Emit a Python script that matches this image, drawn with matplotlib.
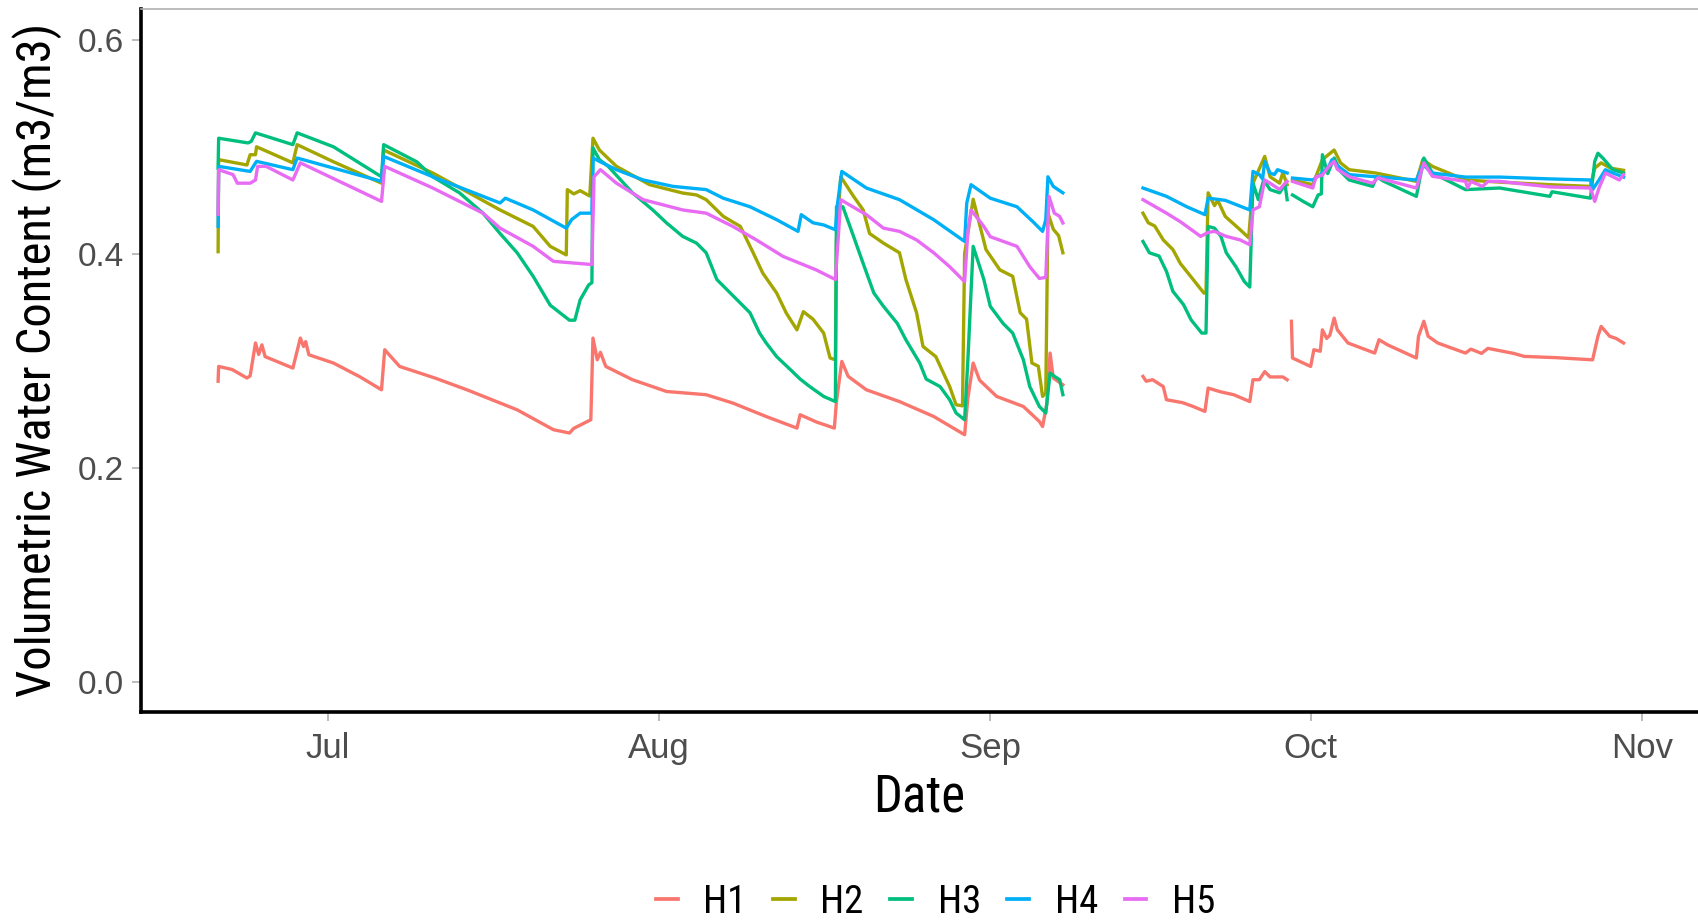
import numpy as np
import pandas as pd
import matplotlib
matplotlib.use("Agg")
import matplotlib.pyplot as plt
import matplotlib.dates as mdates
from matplotlib import font_manager
from matplotlib.lines import Line2D

# soil moisture probes H1..H5, (days since 1 Jul, volumetric water content)
# nan rows mark logger gaps
h1 = [(-10.3, 0.281), (-10.25, 0.2948), (-9.0, 0.292), (-7.6, 0.284), (-7.3, 0.286),
      (-6.8, 0.3167), (-6.5, 0.306), (-6.2, 0.315), (-5.9, 0.304), (-3.3, 0.2933),
      (-2.6, 0.3213), (-2.3, 0.3135), (-2.1, 0.318), (-1.8, 0.3057), (0.5, 0.298),
      (3.0, 0.285), (5.0, 0.273), (5.3, 0.3104), (6.7, 0.2948), (10.0, 0.284),
      (13.0, 0.273), (17.7, 0.2543), (21.1, 0.2357), (22.6, 0.2326), (23.0, 0.237),
      (24.6, 0.245), (24.8, 0.3213), (25.2, 0.301), (25.5, 0.308), (26.0, 0.2948),
      (28.5, 0.2824), (31.7, 0.2714), (35.4, 0.2684), (37.9, 0.2606), (41.0, 0.2481),
      (43.9, 0.2372), (44.2, 0.2497), (45.7, 0.243), (47.4, 0.2372), (47.6, 0.262),
      (48.1, 0.2995), (48.7, 0.2855), (50.4, 0.273), (53.5, 0.262), (56.7, 0.2481),
      (58.8, 0.2357), (59.6, 0.231), (59.9, 0.265), (60.4, 0.298), (61.0, 0.282),
      (62.6, 0.2668), (65.1, 0.2574), (66.6, 0.2434), (66.9, 0.2387), (67.3, 0.26),
      (67.6, 0.3073), (67.9, 0.284), (68.8, 0.2777),
      (72.0, np.nan),
      (76.3, 0.2855), (76.6, 0.281), (77.2, 0.2824), (78.2, 0.276), (78.5, 0.2637),
      (80.0, 0.261), (81.0, 0.2574), (82.1, 0.2528), (82.4, 0.2746), (83.6, 0.271),
      (84.8, 0.2684), (86.3, 0.262), (86.6, 0.2824), (87.2, 0.2824), (87.7, 0.290),
      (88.2, 0.285), (89.4, 0.285), (89.8, 0.2824),
      (90.0, np.nan),
      (90.2, 0.337), (90.3, 0.3027), (92.0, 0.2948), (92.3, 0.3104), (92.9, 0.309),
      (93.1, 0.329), (93.5, 0.321), (93.8, 0.324), (94.2, 0.340), (94.5, 0.329),
      (95.5, 0.3167), (98.0, 0.3073), (98.4, 0.3198), (99.2, 0.315), (101.9, 0.3027),
      (102.1, 0.323), (102.6, 0.337), (103.0, 0.323), (103.9, 0.3167), (106.5, 0.3073),
      (107.0, 0.311), (108.0, 0.307), (108.6, 0.3117), (111.0, 0.307), (112.0, 0.3042),
      (115.0, 0.303), (118.4, 0.301), (118.9, 0.323), (119.2, 0.3322), (120.0, 0.323),
      (120.6, 0.321), (121.3, 0.3167)]

h2 = [(-10.3, 0.402), (-10.25, 0.488), (-7.6, 0.483), (-7.3, 0.4926), (-6.8, 0.4926),
      (-6.7, 0.500), (-3.3, 0.485), (-2.9, 0.502), (0.5, 0.486), (5.0, 0.466),
      (5.2, 0.497), (9.8, 0.4755), (13.0, 0.458), (16.1, 0.441), (19.2, 0.4256),
      (20.8, 0.407), (22.3, 0.399), (22.4, 0.460), (23.0, 0.456), (23.6, 0.459),
      (24.5, 0.454), (24.8, 0.508), (25.4, 0.497), (27.0, 0.4817), (30.1, 0.4646),
      (33.2, 0.4568), (34.5, 0.455), (35.4, 0.4506), (37.0, 0.435), (38.6, 0.4256),
      (39.8, 0.401), (40.7, 0.382), (42.0, 0.3634), (42.9, 0.3447), (43.9, 0.329),
      (44.5, 0.346), (45.4, 0.339), (46.4, 0.326), (47.0, 0.3027), (47.5, 0.301),
      (47.6, 0.413), (48.0, 0.472), (49.2, 0.4537), (50.1, 0.441), (50.7, 0.419),
      (52.0, 0.410), (53.5, 0.401), (54.1, 0.376), (55.1, 0.345), (55.7, 0.3135),
      (56.9, 0.304), (58.2, 0.276), (58.8, 0.259), (59.4, 0.258), (59.6, 0.40),
      (60.4, 0.451), (61.6, 0.404), (62.9, 0.385), (64.1, 0.379), (64.8, 0.345),
      (65.4, 0.339), (65.9, 0.298), (66.5, 0.295), (66.9, 0.2668), (67.2, 0.27),
      (67.4, 0.438), (67.9, 0.423), (68.4, 0.417), (68.8, 0.401),
      (72.0, np.nan),
      (76.3, 0.438), (76.8, 0.429), (77.4, 0.426), (78.2, 0.413), (79.1, 0.404),
      (79.8, 0.391), (81.0, 0.376), (82.0, 0.3634), (82.2, 0.3634), (82.4, 0.457),
      (83.0, 0.445), (83.3, 0.450), (84.0, 0.435), (85.4, 0.4225), (86.2, 0.415),
      (86.6, 0.466), (87.7, 0.491), (88.2, 0.472), (89.1, 0.466), (89.4, 0.476),
      (89.8, 0.4646),
      (90.0, np.nan),
      (90.3, 0.469), (92.2, 0.4646), (93.1, 0.488), (94.2, 0.497), (94.8, 0.485),
      (95.6, 0.4786), (98.1, 0.4755), (101.9, 0.4677), (102.5, 0.488), (103.4, 0.4817),
      (106.5, 0.469), (109.7, 0.467), (114.4, 0.4646), (118.2, 0.463), (118.6, 0.480),
      (119.2, 0.485), (120.1, 0.480), (121.3, 0.478)]

h3 = [(-10.3, 0.48), (-10.25, 0.508), (-7.5, 0.5036), (-7.2, 0.505), (-6.8, 0.513),
      (-3.3, 0.502), (-2.9, 0.513), (0.5, 0.500), (5.0, 0.472), (5.2, 0.502),
      (8.3, 0.486), (9.8, 0.472), (12.3, 0.457), (14.5, 0.438), (16.1, 0.419),
      (17.7, 0.401), (19.2, 0.379), (20.8, 0.352), (22.6, 0.338), (23.1, 0.338),
      (23.6, 0.357), (24.4, 0.371), (24.7, 0.373), (24.8, 0.499), (25.4, 0.488),
      (26.2, 0.482), (28.5, 0.457), (30.4, 0.441), (31.7, 0.4288), (33.2, 0.4163),
      (34.5, 0.41), (35.4, 0.401), (36.4, 0.376), (37.3, 0.367), (38.6, 0.354),
      (39.5, 0.345), (40.4, 0.326), (41.0, 0.317), (42.0, 0.304), (43.3, 0.2917),
      (44.2, 0.283), (45.1, 0.276), (46.4, 0.2668), (47.5, 0.262), (47.6, 0.444),
      (48.2, 0.444), (49.2, 0.4163), (50.1, 0.391), (51.1, 0.3634), (52.0, 0.351),
      (53.3, 0.335), (54.1, 0.3197), (55.4, 0.298), (56.0, 0.283), (57.3, 0.276),
      (58.2, 0.2637), (58.8, 0.2513), (59.6, 0.245), (59.9, 0.30), (60.4, 0.407),
      (61.4, 0.376), (62.0, 0.351), (63.2, 0.335), (64.1, 0.326), (65.1, 0.301),
      (65.7, 0.276), (66.6, 0.2574), (67.2, 0.2513), (67.6, 0.2886), (68.1, 0.285),
      (68.5, 0.2824), (68.8, 0.2684),
      (72.0, np.nan),
      (76.3, 0.4116), (76.9, 0.401), (77.8, 0.398), (78.5, 0.3836), (79.1, 0.365),
      (80.1, 0.3525), (80.8, 0.3384), (81.8, 0.326), (82.2, 0.326), (82.4, 0.4256),
      (83.0, 0.424), (83.6, 0.4163), (84.1, 0.401), (85.0, 0.388), (85.8, 0.374),
      (86.3, 0.369), (86.6, 0.466), (87.1, 0.4506), (87.6, 0.469), (88.2, 0.460),
      (89.1, 0.457), (89.6, 0.465), (89.8, 0.4506),
      (90.0, np.nan),
      (90.3, 0.455), (91.3, 0.449), (92.2, 0.444), (92.7, 0.455), (93.0, 0.456),
      (93.1, 0.4926), (93.6, 0.475), (94.2, 0.4895), (94.8, 0.477), (95.6, 0.469),
      (97.8, 0.463), (98.2, 0.472), (98.8, 0.468), (101.9, 0.4537), (102.6, 0.4895),
      (103.4, 0.4755), (106.5, 0.460), (109.7, 0.4615), (114.4, 0.4537), (114.6, 0.458),
      (118.2, 0.452), (118.6, 0.4864), (118.9, 0.494), (119.4, 0.489), (120.3, 0.4786),
      (121.3, 0.4755)]

h4 = [(-10.3, 0.4256), (-10.25, 0.4817), (-7.3, 0.477), (-6.7, 0.4864), (-3.3, 0.4786),
      (-2.9, 0.4895), (5.0, 0.4677), (5.2, 0.491), (9.8, 0.472), (16.1, 0.4475),
      (16.6, 0.452), (19.2, 0.441), (22.3, 0.424), (22.8, 0.432), (23.6, 0.438),
      (24.7, 0.438), (24.8, 0.4895), (25.4, 0.4864), (27.0, 0.4786), (29.5, 0.469),
      (32.3, 0.463), (35.4, 0.460), (37.0, 0.452), (39.5, 0.444), (42.0, 0.4319),
      (44.0, 0.421), (44.3, 0.4366), (45.4, 0.429), (46.4, 0.427), (47.5, 0.4225),
      (47.7, 0.447), (48.1, 0.477), (50.4, 0.4615), (53.5, 0.4506), (56.7, 0.4319),
      (59.6, 0.4116), (59.8, 0.4475), (60.2, 0.4646), (62.0, 0.452), (64.5, 0.444),
      (66.0, 0.430), (66.9, 0.421), (67.2, 0.432), (67.4, 0.472), (67.9, 0.463),
      (68.8, 0.457),
      (72.0, np.nan),
      (76.3, 0.4615), (78.5, 0.4537), (80.4, 0.444), (82.1, 0.4366), (82.4, 0.452),
      (84.0, 0.450), (86.3, 0.441), (86.6, 0.477), (87.2, 0.474), (87.5, 0.470),
      (87.7, 0.4864), (88.2, 0.4755), (88.6, 0.474), (88.9, 0.4786), (89.8, 0.4755),
      (90.0, np.nan),
      (90.3, 0.4708), (92.2, 0.469), (93.1, 0.4755), (93.7, 0.4817), (94.0, 0.488),
      (94.6, 0.4817), (95.6, 0.474), (98.1, 0.472), (101.9, 0.469), (102.5, 0.4833),
      (103.4, 0.4755), (106.5, 0.4717), (109.7, 0.4717), (114.4, 0.470), (118.2, 0.469),
      (118.4, 0.460), (119.0, 0.469), (119.6, 0.4786), (120.3, 0.4755), (121.3, 0.4717)]

h5 = [(-10.3, 0.437), (-10.25, 0.4786), (-8.9, 0.474), (-8.5, 0.466), (-7.3, 0.466),
      (-6.8, 0.469), (-6.6, 0.4817), (-5.8, 0.4817), (-3.3, 0.469), (-2.6, 0.485),
      (5.0, 0.449), (5.3, 0.4817), (9.8, 0.4615), (14.5, 0.438), (16.1, 0.424),
      (19.2, 0.407), (21.1, 0.393), (24.7, 0.390), (24.9, 0.472), (25.5, 0.4786),
      (27.0, 0.466), (29.5, 0.4506), (33.2, 0.441), (35.4, 0.438), (37.9, 0.4256),
      (40.1, 0.413), (42.6, 0.3976), (45.7, 0.385), (47.5, 0.376), (47.8, 0.42),
      (48.0, 0.4506), (48.6, 0.447), (50.4, 0.4366), (52.0, 0.424), (53.5, 0.421),
      (55.1, 0.413), (56.7, 0.401), (58.2, 0.388), (59.6, 0.374), (59.9, 0.42),
      (60.2, 0.441), (61.4, 0.4256), (62.0, 0.416), (64.5, 0.407), (65.7, 0.388),
      (66.6, 0.377), (67.2, 0.378), (67.5, 0.4537), (68.0, 0.438), (68.5, 0.435),
      (68.8, 0.4288),
      (72.0, np.nan),
      (76.3, 0.4506), (78.5, 0.438), (79.8, 0.430), (81.7, 0.4163), (82.4, 0.42),
      (83.0, 0.421), (84.1, 0.4163), (85.4, 0.413), (86.3, 0.4085), (86.6, 0.441),
      (87.2, 0.444), (87.7, 0.469), (88.2, 0.466), (89.1, 0.460), (89.6, 0.466),
      (89.8, 0.4677),
      (90.0, np.nan),
      (90.3, 0.4677), (92.2, 0.4615), (92.5, 0.472), (93.1, 0.4735), (93.7, 0.4817),
      (94.2, 0.4864), (94.5, 0.479), (95.6, 0.472), (97.8, 0.466), (98.3, 0.471),
      (101.9, 0.4615), (102.6, 0.485), (103.4, 0.4725), (106.5, 0.4677), (106.7, 0.4615),
      (107.0, 0.4677), (108.1, 0.463), (108.6, 0.4677), (109.7, 0.4677), (114.4, 0.4625),
      (118.2, 0.4615), (118.6, 0.449), (119.0, 0.4615), (119.6, 0.4755), (120.3, 0.472),
      (120.9, 0.469), (121.3, 0.474)]

probes = ["H1", "H2", "H3", "H4", "H5"]
colors = ["#F8766D", "#A3A500", "#00BF7D", "#00B0F6", "#E76BF3"]
y_ticks = [0.0, 0.2, 0.4, 0.6]

START = pd.Timestamp("2019-07-01")


def to_dates(days):
    return START + pd.to_timedelta(np.asarray(days, dtype=float), unit="D")


# titles use a condensed sans if one is around
installed = {f.name for f in font_manager.fontManager.ttflist}
NARROW = "Liberation Sans"
for cand in ["Liberation Sans Narrow", "Arimo Narrow", "Roboto Condensed",
             "Archivo Narrow", "PT Sans Narrow"]:
    if cand in installed:
        NARROW = cand
        break
REGULAR = "Liberation Sans"


def fit_text(t, target_px, along="width"):
    # scale a text's font size so its rendered extent matches target_px
    fig.canvas.draw()
    bb = t.get_window_extent()
    cur = bb.width if along == "width" else bb.height
    t.set_fontsize(t.get_fontsize() * target_px / cur)


fig = plt.figure(figsize=(16.98, 9.21), dpi=100)
ax = fig.add_axes([141 / 1698, 1 - 712 / 921, 1 - 141 / 1698, (712 - 8.7) / 921])

for name, col, series in zip(probes, colors, [h1, h2, h3, h4, h5]):
    arr = np.array(series, dtype=float)
    ax.plot(to_dates(arr[:, 0]), arr[:, 1], color=col, lw=2.4, label=name,
            solid_joinstyle="round")

ax.set_ylim(-0.028, 0.629)
ax.set_yticks(y_ticks)
ax.set_yticklabels([f"{v:.1f}" for v in y_ticks])
ax.set_xlim(to_dates([-17.52])[0], to_dates([128.27])[0])
ax.xaxis.set_major_locator(mdates.MonthLocator())
ax.xaxis.set_major_formatter(mdates.DateFormatter("%b"))

for side in ["left", "bottom"]:
    ax.spines[side].set_linewidth(2.6)
    ax.spines[side].set_color("black")
ax.spines["right"].set_visible(False)
ax.spines["top"].set_color("#b0b0b0")
ax.spines["top"].set_linewidth(1.2)

ax.tick_params(axis="both", direction="out", length=6.5, width=1.1, color="#AAAAAA",
               labelcolor="#4D4D4D")
ax.tick_params(axis="y", pad=6)
ax.tick_params(axis="x", pad=8)
for lab in ax.get_yticklabels():
    lab.set_fontfamily(REGULAR)
    lab.set_fontsize(24)
for lab in ax.get_xticklabels():
    lab.set_fontfamily(REGULAR)
    lab.set_fontsize(25)

xl = ax.set_xlabel("Date", fontfamily=NARROW, fontsize=36, labelpad=5)
yl = ax.set_ylabel("Volumetric Water Content (m3/m3)", fontfamily=NARROW, fontsize=36,
                   labelpad=11)
fit_text(xl, 92, "width")
fit_text(yl, 675, "height")

handles = [Line2D([], [], color=c, lw=2.7) for c in colors]
leg = fig.legend(handles, probes, loc="center", bbox_to_anchor=(0.551, 0.02), ncol=5,
                 frameon=False, prop={"family": NARROW, "size": 28},
                 handlelength=0.56, handletextpad=0.66, columnspacing=0.68)

fig.savefig("out.png", dpi=100)
